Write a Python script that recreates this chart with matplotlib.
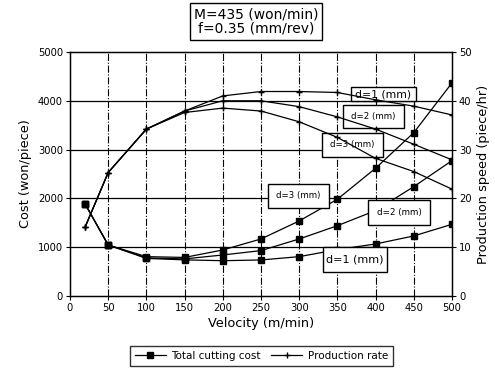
import matplotlib
matplotlib.use("Agg")
from matplotlib import pyplot as plt, patches

plt.rcParams["font.family"] = ["DejaVu Sans"]

velocity = [20, 50, 100, 150, 200, 250, 300, 350, 400, 450, 500]

# total cutting cost (won/piece), left axis
cost_d1 = [1880, 1045, 770, 740, 723, 738, 806, 950, 1066, 1230, 1469]
cost_d2 = [1880, 1045, 780, 760, 840, 930, 1168, 1440, 1750, 2240, 2773]
cost_d3 = [1880, 1045, 806, 790, 943, 1168, 1537, 1982, 2617, 3346, 4365]

# production rate (piece/hr), right axis
rate_d1 = [14.2, 25.3, 34.2, 37.9, 41.0, 41.9, 41.9, 41.7, 40.2, 38.9, 37.1]
rate_d2 = [14.2, 25.3, 34.2, 37.9, 40.0, 40.0, 38.8, 36.7, 34.2, 31.1, 27.9]
rate_d3 = [14.2, 25.3, 34.2, 37.6, 38.5, 37.9, 35.7, 32.5, 28.2, 25.5, 21.9]

xticks = [0, 50, 100, 150, 200, 250, 300, 350, 400, 450, 500]
cost_ticks = [0, 1000, 2000, 3000, 4000, 5000]
rate_ticks = [0, 10, 20, 30, 40, 50]

fig = plt.figure(figsize=(4.95, 3.74), dpi=100)
ax = fig.add_axes([0.1414, 0.2086, 0.7716, 0.6524])
ax2 = ax.twinx()

lw = 0.9
for c in (cost_d1, cost_d2, cost_d3):
    ax.plot(velocity, c, color="black", lw=lw, marker="s", ms=4, mfc="black", zorder=3)
for r in (rate_d1, rate_d2, rate_d3):
    ax2.plot(velocity, r, color="black", lw=lw, marker="+", ms=5, mew=1, zorder=3)

ax.set_xlim(0, 500)
ax.set_ylim(0, 5000)
ax2.set_ylim(0, 50)
ax.set_xticks(xticks)
ax.set_yticks(cost_ticks)
ax2.set_yticks(rate_ticks)
ax.tick_params(labelsize=7.2, length=3, direction="out", pad=2)
ax2.tick_params(labelsize=7.2, length=3, direction="out", pad=2)
for sp in ax.spines.values():
    sp.set_linewidth(1.0)

# grid: dash-dot verticals, solid horizontals
for x in xticks[1:-1]:
    ax.axvline(x, color="black", lw=0.8, ls="-.", zorder=0)
for y in cost_ticks[1:-1]:
    ax.axhline(y, color="black", lw=0.9, zorder=0)

ax.set_xlabel("Velocity (m/min)", fontsize=9.3, labelpad=3)
ax.set_ylabel("Cost (won/piece)", fontsize=9.3)
ax2.set_ylabel("Production speed (piece/hr)", fontsize=9.3)

# label boxes: centre x, centre y, width, height (data units), text, font size
labels = [
    (410, 4139, 85, 287, "d=1 (mm)", 7.8),
    (397, 3678, 80, 471, "d=2 (mm)", 6.2),
    (370, 3094, 79, 492, "d=3 (mm)", 6.2),
    (299, 2049, 80, 492, "d=3 (mm)", 6.2),
    (431, 1711, 81, 512, "d=2 (mm)", 6.3),
    (373, 748, 84, 512, "d=1 (mm)", 8.0),
]
for x, y, w, h, s, fs in labels:
    rect = patches.Rectangle((x - w / 2, y - h / 2), w, h, fc="white", ec="black",
                             lw=1.0, zorder=5, clip_on=False)
    ax.add_patch(rect)
    ax.text(x, y, s, fontsize=fs, ha="center", va="center", zorder=6)

fig.patches.append(patches.Rectangle((190 / 495, 1 - 40 / 374), 132 / 495, 37 / 374,
                                     transform=fig.transFigure, fc="white",
                                     ec="black", lw=1.0))
fig.text(0.517, 1 - 21.5 / 374, "M=435 (won/min)\nf=0.35 (mm/rev)", fontsize=10,
         ha="center", va="center", linespacing=1.05)

h1, = ax.plot([], [], color="black", lw=lw, marker="s", ms=4)
h2, = ax.plot([], [], color="black", lw=lw, marker="+", ms=5)
fig.legend([h1, h2], ["Total cutting cost", "Production rate"], loc="center",
           bbox_to_anchor=(0.528, 0.048), ncol=2, fontsize=7.5, frameon=True,
           fancybox=False, edgecolor="black", handlelength=3.0,
           columnspacing=1.0, handletextpad=0.5, borderpad=0.45,
           borderaxespad=0.0)

fig.savefig("out.png", dpi=100)
